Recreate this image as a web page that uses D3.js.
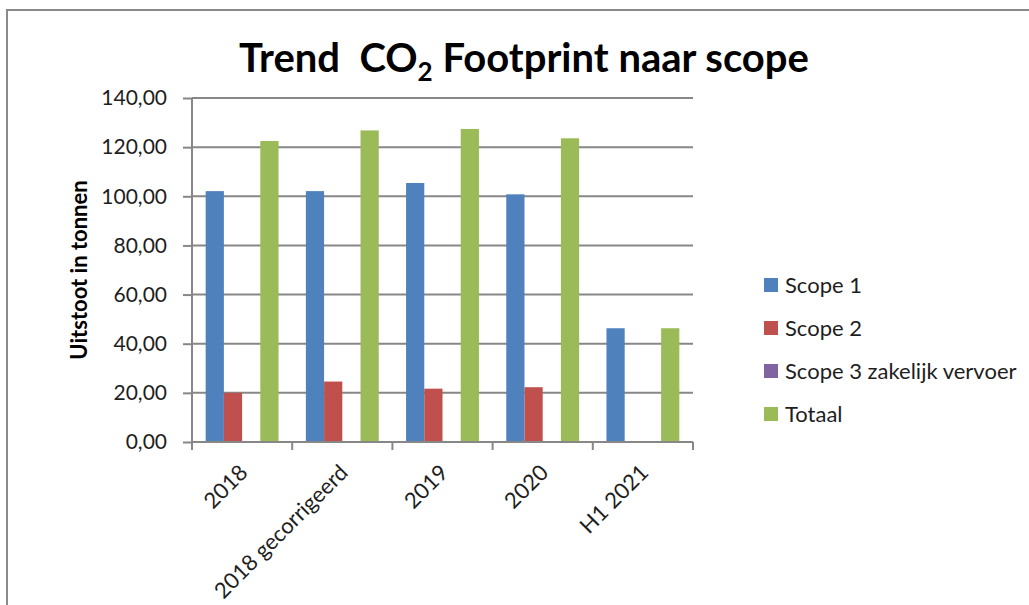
<!DOCTYPE html>
<html>
<head>
<meta charset="utf-8">
<script src="https://cdn.jsdelivr.net/npm/d3@7"></script>
<style>
  html, body { margin: 0; padding: 0; background: #fff; }
  svg { display: block; font-family: Lato, "Open Sans", sans-serif; }
</style>
</head>
<body>
<div class="stage"></div>
<script>
// chart data
var categories = ['2018', '2018 gecorrigeerd', '2019', '2020', 'H1 2021'];
var seriesNames = ['Scope 1', 'Scope 2', 'Scope 3 zakelijk vervoer', 'Totaal'];
var scope1 = [102.1, 102.1, 105.4, 100.8, 46.3];
var scope2 = [20.0, 24.6, 21.7, 22.3, 0];
var scope3 = [0, 0, 0, 0, 0];
var totaal = [122.5, 126.8, 127.4, 123.6, 46.3];
var colors = ['#4F81BD', '#C0504D', '#8064A2', '#9BBB59'];
var yTicks = [0, 20, 40, 60, 80, 100, 120, 140];

var allSeries = [scope1, scope2, scope3, totaal];

var width = 1029;
var height = 605;
var plot = { left: 192, right: 693, top: 98, bottom: 442 };
var gridColor = '#878787';
var textColor = '#1e1e1e';

var svg = d3.select('.stage')
            .append('svg')
            .attr('width', width)
            .attr('height', height);

// chart area border (runs off the right and bottom edge)
svg.append('rect')
  .attr('x', 7)
  .attr('y', 10)
  .attr('width', width + 20)
  .attr('height', height + 20)
  .attr('fill', '#fff')
  .attr('stroke', '#8a8a8a')
  .attr('stroke-width', 2);

// scales
var x0 = d3.scaleBand()
  .domain(categories)
  .range([plot.left, plot.right])
  .padding(0);

var bw = x0.bandwidth();
var barW = bw / (seriesNames.length + 1.5);
var x1 = d3.scaleBand()
  .domain(seriesNames)
  .range([barW * 0.75, bw - barW * 0.75])
  .padding(0);

var y = d3.scaleLinear()
  .domain([0, 140])
  .range([plot.bottom, plot.top]);

var fmt = function(v) { return d3.format('.2f')(v).replace('.', ','); };

// gridlines + y axis
var yAxis = d3.axisLeft(y)
  .tickValues(yTicks)
  .tickSize(9)
  .tickPadding(16)
  .tickFormat(fmt);

var gy = svg.append('g')
  .attr('transform', 'translate(' + plot.left + ',0)')
  .call(yAxis);
gy.select('.domain').remove();
gy.selectAll('.tick line').attr('stroke', gridColor).attr('stroke-width', 2);
gy.selectAll('.tick text')
  .attr('fill', textColor)
  .style('font-size', '21px')
  .style('font-family', 'Lato, sans-serif');

svg.append('g')
  .selectAll('line')
  .data(yTicks)
  .enter()
  .append('line')
  .attr('x1', plot.left)
  .attr('x2', plot.right)
  .attr('y1', function(d) { return y(d); })
  .attr('y2', function(d) { return y(d); })
  .attr('stroke', gridColor)
  .attr('stroke-width', 2);

svg.append('line')
  .attr('x1', plot.left)
  .attr('x2', plot.left)
  .attr('y1', plot.top)
  .attr('y2', plot.bottom)
  .attr('stroke', gridColor)
  .attr('stroke-width', 2);

// bars
var groups = svg.append('g')
  .selectAll('g')
  .data(categories)
  .enter()
  .append('g')
  .attr('transform', function(d) { return 'translate(' + x0(d) + ',0)'; });

groups.selectAll('rect')
  .data(function(d, i) {
    return seriesNames.map(function(s, j) {
      return { name: s, value: allSeries[j][i], color: colors[j] };
    });
  })
  .enter()
  .append('rect')
  .attr('x', function(d) { return x1(d.name); })
  .attr('width', x1.bandwidth())
  .attr('y', function(d) { return y(d.value); })
  .attr('height', function(d) { return y(0) - y(d.value); })
  .attr('fill', function(d) { return d.color; });

// x axis with category ticks at the band edges
svg.append('line')
  .attr('x1', plot.left)
  .attr('x2', plot.right)
  .attr('y1', plot.bottom)
  .attr('y2', plot.bottom)
  .attr('stroke', gridColor)
  .attr('stroke-width', 2);

var edges = categories.map(function(c) { return x0(c); }).concat([plot.right]);
svg.append('g')
  .selectAll('line')
  .data(edges)
  .enter()
  .append('line')
  .attr('x1', function(d) { return d; })
  .attr('x2', function(d) { return d; })
  .attr('y1', plot.bottom)
  .attr('y2', plot.bottom + 8)
  .attr('stroke', gridColor)
  .attr('stroke-width', 2);

svg.append('g')
  .selectAll('text')
  .data(categories)
  .enter()
  .append('text')
  .attr('transform', function(d) {
    return 'translate(' + (x0(d) + bw / 2 + 7) + ',' + (plot.bottom + 32) + ') rotate(-45)';
  })
  .attr('text-anchor', 'end')
  .attr('fill', textColor)
  .style('font-size', '22px')
  .text(function(d) { return d; });

// y axis title
svg.append('text')
  .attr('transform', 'translate(87,' + ((plot.top + plot.bottom) / 2) + ') rotate(-90)')
  .attr('text-anchor', 'middle')
  .attr('fill', '#000')
  .style('font-size', '22px')
  .style('font-weight', 'bold')
  .text('Uitstoot in tonnen');

// chart title
var title = svg.append('text')
  .attr('x', 524)
  .attr('y', 72)
  .attr('text-anchor', 'middle')
  .attr('fill', '#000')
  .style('white-space', 'pre')
  .style('font-size', '40px')
  .style('font-weight', 'bold');
title.append('tspan').text('Trend  CO');
title.append('tspan').attr('dy', 9).style('font-size', '26px').text('2');
title.append('tspan').attr('dy', -9).text(' Footprint naar scope');

// legend
var legend = svg.append('g')
  .selectAll('g')
  .data(seriesNames)
  .enter()
  .append('g')
  .attr('transform', function(d, i) { return 'translate(764,' + (285 + i * 43) + ')'; });

legend.append('rect')
  .attr('x', 0)
  .attr('y', -7)
  .attr('width', 14)
  .attr('height', 14)
  .attr('fill', function(d, i) { return colors[i]; });

legend.append('text')
  .attr('x', 21)
  .attr('y', 8)
  .attr('fill', textColor)
  .style('font-size', '22px')
  .text(function(d) { return d; });
</script>
</body>
</html>
